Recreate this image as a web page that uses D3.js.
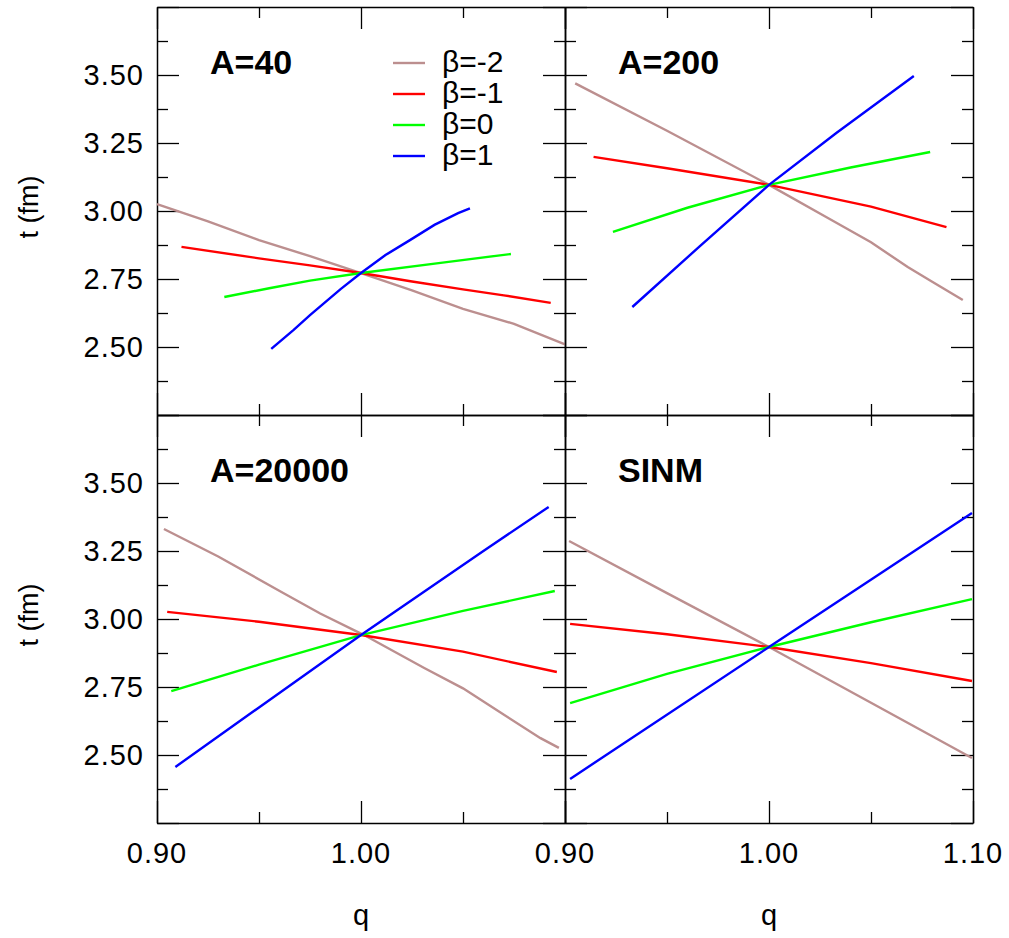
<!DOCTYPE html>
<html>
<head>
<meta charset="utf-8">
<script src="https://cdn.jsdelivr.net/npm/d3@7"></script>
<style>
  body { margin: 0; background: #fff; }
  text { font-family: "Liberation Sans", Arial, sans-serif; }
</style>
</head>
<body>
<svg id="viz" width="1009" height="938"></svg>
<script>
// legend / series
let betaNames = ["β=-2", "β=-1", "β=0", "β=1"];
let betaColors = ["#bc8f8f", "#ff0000", "#00ff00", "#0000ff"];

// panel titles
let panelTitles = ["A=40", "A=200", "A=20000", "SINM"];

// tick values
let xMajor = [0.9, 1.0, 1.1];
let xMinor = [0.95, 1.05];
let yMajor = [2.25, 2.5, 2.75, 3.0, 3.25, 3.5, 3.75];
let yMinor = [2.375, 2.625, 2.875, 3.125, 3.375, 3.625];
let yLabelVals = [2.5, 2.75, 3.0, 3.25, 3.5];
let xLabelsLeft = [0.9, 1.0];
let xLabelsRight = [0.9, 1.0, 1.1];

// data: [q, t]  -- A=40
let a40_m2 = [[0.900,3.025],[0.925,2.962],[0.950,2.893],[0.975,2.834],[1.000,2.772],[1.025,2.708],[1.050,2.640],[1.075,2.585],[1.100,2.510]];
let a40_m1 = [[0.912,2.868],[0.950,2.826],[0.975,2.800],[1.000,2.772],[1.025,2.741],[1.050,2.712],[1.070,2.690],[1.093,2.662]];
let a40_p0 = [[0.933,2.684],[0.955,2.716],[0.975,2.744],[1.000,2.772],[1.040,2.810],[1.0735,2.842]];
let a40_p1 = [[0.956,2.493],[0.967,2.563],[0.975,2.617],[0.990,2.713],[1.000,2.772],[1.012,2.838],[1.024,2.893],[1.036,2.949],[1.0476,2.992],[1.0534,3.010]];

// A=200
let a200_m2 = [[0.905,3.469],[0.950,3.295],[1.000,3.096],[1.028,2.978],[1.050,2.885],[1.068,2.794],[1.080,2.740],[1.095,2.673]];
let a200_m1 = [[0.914,3.199],[0.950,3.157],[1.000,3.096],[1.050,3.016],[1.087,2.941]];
let a200_p0 = [[0.9235,2.923],[0.960,3.012],[1.000,3.096],[1.040,3.160],[1.079,3.217]];
let a200_p1 = [[0.933,2.647],[0.966,2.870],[1.000,3.096],[1.033,3.287],[1.071,3.496]];

// A=20000
let a20000_m2 = [[0.9034,3.331],[0.930,3.230],[0.961,3.099],[0.980,3.020],[1.0015,2.941],[1.031,2.820],[1.050,2.745],[1.068,2.658],[1.088,2.562],[1.097,2.526]];
let a20000_m1 = [[0.905,3.026],[0.950,2.990],[1.000,2.941],[1.050,2.880],[1.096,2.805]];
let a20000_p0 = [[0.907,2.735],[0.950,2.832],[1.000,2.941],[1.050,3.030],[1.095,3.103]];
let a20000_p1 = [[0.909,2.456],[0.950,2.675],[1.000,2.941],[1.030,3.096],[1.060,3.250],[1.092,3.412]];

// SINM
let sinm_m2 = [[0.902,3.287],[0.950,3.095],[1.000,2.897],[1.050,2.692],[1.0995,2.489]];
let sinm_m1 = [[0.9025,2.982],[0.950,2.944],[1.000,2.897],[1.050,2.838],[1.0995,2.772]];
let sinm_p0 = [[0.9025,2.691],[0.950,2.798],[1.000,2.897],[1.050,2.988],[1.0995,3.073]];
let sinm_p1 = [[0.9025,2.412],[1.000,2.897],[1.0995,3.390]];

let panelSeries = [
  [a40_m2, a40_m1, a40_p0, a40_p1],
  [a200_m2, a200_m1, a200_p0, a200_p1],
  [a20000_m2, a20000_m1, a20000_p0, a20000_p1],
  [sinm_m2, sinm_m1, sinm_p0, sinm_p1]
];

// layout
let leftMargin = 157, topMargin = 7, panelSize = 408;
let svg = d3.select("#viz");

let xScale = d3.scaleLinear().domain([0.9, 1.1]).range([0, panelSize]);
let yScale = d3.scaleLinear().domain([2.25, 3.75]).range([panelSize, 0]);
let fmt = d3.format(".2f");

panelTitles.forEach(function (title, i) {
  let col = i % 2, row = Math.floor(i / 2);
  let g = svg.append("g")
    .attr("transform", `translate(${leftMargin + col * panelSize}, ${topMargin + row * panelSize})`);

  // ticks on all four sides, inward
  let sides = [
    { ax: d3.axisBottom, tr: `translate(0, ${panelSize})`, sc: xScale, maj: xMajor, min: xMinor },
    { ax: d3.axisTop, tr: "translate(0, 0)", sc: xScale, maj: xMajor, min: xMinor },
    { ax: d3.axisLeft, tr: "translate(0, 0)", sc: yScale, maj: yMajor, min: yMinor },
    { ax: d3.axisRight, tr: `translate(${panelSize}, 0)`, sc: yScale, maj: yMajor, min: yMinor }
  ];
  sides.forEach(function (s) {
    let gm = g.append("g").attr("transform", s.tr)
      .call(s.ax(s.sc).tickValues(s.maj).tickSizeInner(-22).tickSizeOuter(0).tickFormat(""));
    gm.select(".domain").attr("stroke-width", 1.5);
    gm.selectAll(".tick line").attr("stroke-width", 1.3);
    let gn = g.append("g").attr("transform", s.tr)
      .call(s.ax(s.sc).tickValues(s.min).tickSizeInner(-11).tickSizeOuter(0).tickFormat(""));
    gn.select(".domain").remove();
    gn.selectAll(".tick line").attr("stroke-width", 1.3);
  });

  // tick labels
  if (col === 0) {
    g.selectAll(".ylab").data(yLabelVals).enter().append("text")
      .attr("x", -13)
      .attr("y", d => yScale(d))
      .attr("dy", "0.36em")
      .attr("text-anchor", "end")
      .attr("font-size", 29)
      .attr("letter-spacing", 1)
      .text(d => fmt(d));
    svg.append("text")
      .attr("transform", `translate(38, ${topMargin + row * panelSize + panelSize / 2 - 4}) rotate(-90)`)
      .attr("text-anchor", "middle")
      .attr("font-size", 27)
      .text("t (fm)");
  }
  if (row === 1) {
    let labs = col === 0 ? xLabelsLeft : xLabelsRight;
    g.selectAll(".xlab").data(labs).enter().append("text")
      .attr("x", d => xScale(d))
      .attr("y", panelSize + 40)
      .attr("text-anchor", "middle")
      .attr("font-size", 29)
      .attr("letter-spacing", 1)
      .text(d => fmt(d));
    svg.append("text")
      .attr("x", leftMargin + col * panelSize + xScale(1.0))
      .attr("y", 925)
      .attr("text-anchor", "middle")
      .attr("font-size", 29)
      .text("q");
  }

  // curves
  let line = d3.line().x(d => xScale(d[0])).y(d => yScale(d[1]));
  panelSeries[i].forEach(function (pts, k) {
    g.append("path")
      .datum(pts)
      .attr("fill", "none")
      .attr("stroke", betaColors[k])
      .attr("stroke-width", 2.4)
      .attr("d", line);
  });

  // title
  g.append("text")
    .attr("x", 53)
    .attr("y", 67)
    .attr("font-size", 34)
    .attr("font-weight", "bold")
    .text(title);
});

// legend in first panel
let legend = svg.append("g");
betaNames.forEach(function (name, k) {
  let y = 63 + k * 31;
  legend.append("line")
    .attr("x1", 393).attr("x2", 425)
    .attr("y1", y).attr("y2", y)
    .attr("stroke", betaColors[k])
    .attr("stroke-width", 2.4);
  legend.append("text")
    .attr("x", 442)
    .attr("y", y + 9)
    .attr("font-size", 30)
    .text(name);
});
</script>
</body>
</html>
